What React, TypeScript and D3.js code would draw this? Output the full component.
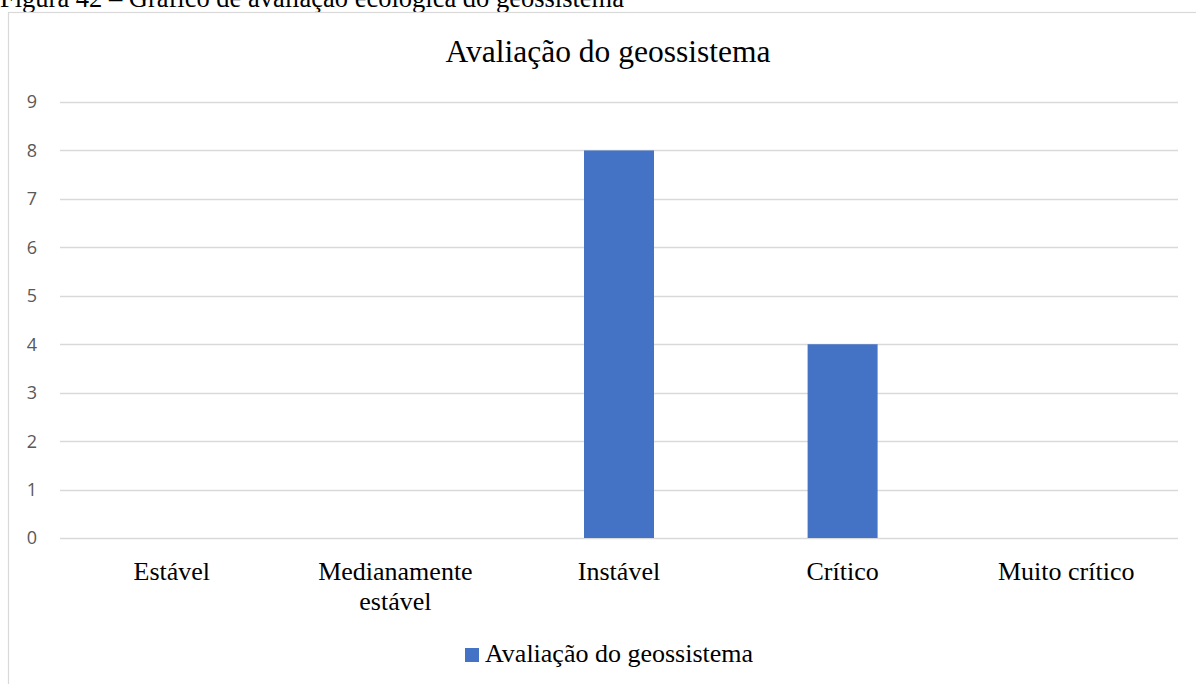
import { useRef, useEffect } from 'react'
import * as d3 from 'd3'

const categories = ['Estável', 'Medianamente estável', 'Instável', 'Crítico', 'Muito crítico']
const values = [0, 0, 8, 4, 0]
const yTicks = [0, 1, 2, 3, 4, 5, 6, 7, 8, 9]
const seriesName = 'Avaliação do geossistema'
const caption = 'Figura 42 – Gráfico de avaliação ecológica do geossistema'

const WIDTH = 1196
const HEIGHT = 684
const BAR_COLOR = '#4472c4'
const SERIF = 'Liberation Serif, Times New Roman, serif'
const SANS = 'Open Sans, Liberation Sans, sans-serif'

export default function App() {
  const ref = useRef<SVGSVGElement>(null)

  useEffect(() => {
    if (!ref.current) return
    const svg = d3.select(ref.current)
    svg.selectAll('*').remove()

    const margin = { top: 102, right: 18, bottom: 146, left: 60 }
    const plotW = WIDTH - margin.left - margin.right
    const plotH = HEIGHT - margin.top - margin.bottom

    // caption above the frame (cut at the top like the source)
    svg
      .append('text')
      .attr('x', 0)
      .attr('y', 7)
      .attr('font-family', SERIF)
      .attr('font-size', 26.5)
      .attr('fill', '#000')
      .text(caption)

    // chart frame
    svg
      .append('rect')
      .attr('x', 8.5)
      .attr('y', 12.5)
      .attr('width', WIDTH + 10)
      .attr('height', HEIGHT + 10)
      .attr('fill', 'none')
      .attr('stroke', '#d9d9d9')
      .attr('stroke-width', 1.2)

    svg
      .append('text')
      .attr('x', 608)
      .attr('y', 62)
      .attr('text-anchor', 'middle')
      .attr('font-family', SERIF)
      .attr('font-size', 31.5)
      .attr('fill', '#000')
      .text(seriesName)

    const g = svg.append('g').attr('transform', `translate(${margin.left},${margin.top})`)

    const x = d3.scaleBand<string>().domain(categories).range([0, plotW]).paddingInner(0.687).paddingOuter(0.3435)
    const y = d3.scaleLinear().domain([0, 9]).range([plotH, 0])

    g.selectAll('line.grid')
      .data(yTicks)
      .enter()
      .append('line')
      .attr('class', 'grid')
      .attr('x1', 0)
      .attr('x2', plotW)
      .attr('y1', (d) => Math.round(y(d)) + 0.5)
      .attr('y2', (d) => Math.round(y(d)) + 0.5)
      .attr('stroke', '#d9d9d9')
      .attr('stroke-width', 1.5)

    g.selectAll('text.ytick')
      .data(yTicks)
      .enter()
      .append('text')
      .attr('class', 'ytick')
      .attr('x', -23)
      .attr('y', (d) => y(d))
      .attr('dy', '0.36em')
      .attr('text-anchor', 'end')
      .attr('font-family', SANS)
      .attr('font-size', 18)
      .attr('fill', '#595959')
      .text((d) => d)

    g.selectAll('rect.bar')
      .data(values)
      .enter()
      .append('rect')
      .attr('class', 'bar')
      .attr('x', (_, i) => x(categories[i])!)
      .attr('y', (d) => y(d))
      .attr('width', x.bandwidth())
      .attr('height', (d) => plotH - y(d))
      .attr('fill', BAR_COLOR)

    const labels = g
      .selectAll('text.xlabel')
      .data(categories)
      .enter()
      .append('text')
      .attr('class', 'xlabel')
      .attr('text-anchor', 'middle')
      .attr('font-family', SERIF)
      .attr('font-size', 26)
      .attr('fill', '#000')
      .attr('transform', (d) => `translate(${x(d)! + x.bandwidth() / 2},${plotH + 42})`)

    labels.each(function (d) {
      const words = d === 'Medianamente estável' ? ['Medianamente', 'estável'] : [d]
      const t = d3.select(this)
      words.forEach((w, i) => {
        t.append('tspan').attr('x', 0).attr('dy', i === 0 ? 0 : 30).text(w)
      })
    })

    // legend
    const legend = svg.append('g').attr('transform', 'translate(465,648)')
    legend.append('rect').attr('width', 14).attr('height', 14).attr('fill', BAR_COLOR)
    legend
      .append('text')
      .attr('x', 20)
      .attr('y', 14)
      .attr('font-family', SERIF)
      .attr('font-size', 26)
      .attr('fill', '#000')
      .text(seriesName)
  }, [])

  return (
    <svg
      ref={ref}
      width={WIDTH}
      height={HEIGHT}
      style={{ position: 'absolute', left: 0, top: 0, background: '#fff' }}
    />
  )
}
